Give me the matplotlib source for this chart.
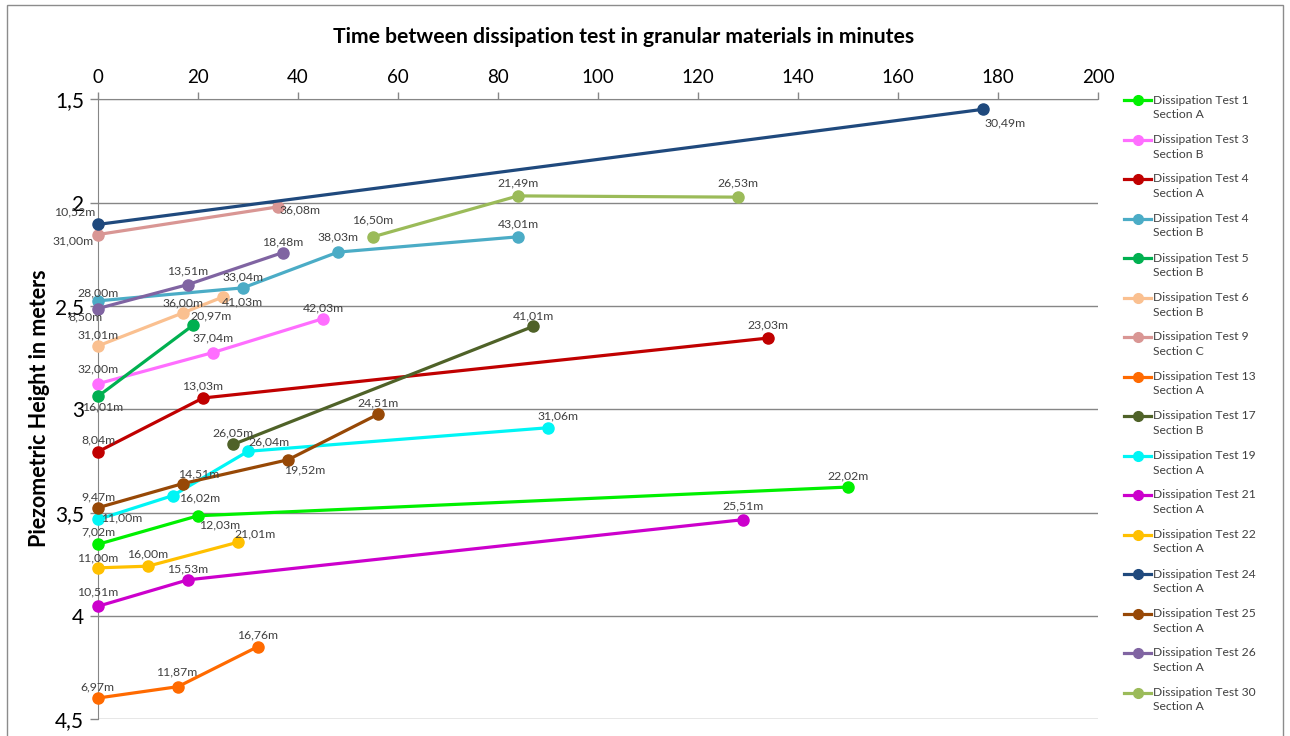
import matplotlib
matplotlib.use('Agg')
import matplotlib.pyplot as plt
from matplotlib.lines import Line2D
from matplotlib.patches import Rectangle
from matplotlib.ticker import FixedLocator, FixedFormatter

plt.rcParams['font.family'] = ['Lato', 'DejaVu Sans']

# tick labels
x_ticks = [0, 20, 40, 60, 80, 100, 120, 140, 160, 180, 200]
y_ticks = [1.5, 2.0, 2.5, 3.0, 3.5, 4.0, 4.5]
y_tick_labels = ['1,5', '2', '2,5', '3', '3,5', '4', '4,5']

# series names (legend)
names = ['Dissipation Test 1\nSection A', 'Dissipation Test 3\nSection B',
         'Dissipation Test 4\nSection A', 'Dissipation Test 4\nSection B',
         'Dissipation Test 5\nSection B', 'Dissipation Test 6\nSection B',
         'Dissipation Test 9\nSection C', 'Dissipation Test 13\nSection A',
         'Dissipation Test 17\nSection B', 'Dissipation Test 19\nSection A',
         'Dissipation Test 21\nSection A', 'Dissipation Test 22\nSection A',
         'Dissipation Test 24\nSection A', 'Dissipation Test 25\nSection A',
         'Dissipation Test 26\nSection A', 'Dissipation Test 30\nSection A']

# time (min), piezometric height (m), depth label
t_1a = [0, 20, 150]
h_1a = [3.653, 3.515, 3.376]
d_1a = ['7,02m', '12,03m', '22,02m']

t_3b = [0, 23, 45]
h_3b = [2.876, 2.725, 2.561]
d_3b = ['32,00m', '37,04m', '42,03m']

t_4a = [0, 21, 134]
h_4a = [3.205, 2.945, 2.655]
d_4a = ['8,04m', '13,03m', '23,03m']

t_4b = [0, 29, 48, 84]
h_4b = [2.475, 2.412, 2.239, 2.165]
d_4b = ['28,00m', '33,04m', '38,03m', '43,01m']

t_5b = [0, 19]
h_5b = [2.937, 2.593]
d_5b = ['16,01m', '20,97m']

t_6b = [0, 17, 25]
h_6b = [2.693, 2.533, 2.456]
d_6b = ['31,01m', '36,00m', '41,03m']

t_9c = [0, 36]
h_9c = [2.154, 2.020]
d_9c = ['31,00m', '36,08m']

t_13a = [0, 16, 32]
h_13a = [4.397, 4.342, 4.148]
d_13a = ['6,97m', '11,87m', '16,76m']

t_17b = [27, 87]
h_17b = [3.170, 2.599]
d_17b = ['26,05m', '41,01m']

t_19a = [0, 15, 30, 90]
h_19a = [3.533, 3.417, 3.203, 3.089]
d_19a = ['11,00m', '16,02m', '26,04m', '31,06m']

t_21a = [0, 18, 129]
h_21a = [3.953, 3.825, 3.534]
d_21a = ['10,51m', '15,53m', '25,51m']

t_22a = [0, 10, 28]
h_22a = [3.767, 3.759, 3.643]
d_22a = ['11,00m', '16,00m', '21,01m']

t_24a = [0, 177]
h_24a = [2.105, 1.548]
d_24a = ['10,52m', '30,49m']

t_25a = [0, 17, 38, 56]
h_25a = [3.476, 3.359, 3.244, 3.024]
d_25a = ['9,47m', '14,51m', '19,52m', '24,51m']

t_26a = [0, 18, 37]
h_26a = [2.512, 2.396, 2.241]
d_26a = ['8,50m', '13,51m', '18,48m']

t_30a = [55, 84, 128]
h_30a = [2.165, 1.967, 1.973]
d_30a = ['16,50m', '21,49m', '26,53m']

times = [t_1a, t_3b, t_4a, t_4b, t_5b, t_6b, t_9c, t_13a, t_17b, t_19a,
         t_21a, t_22a, t_24a, t_25a, t_26a, t_30a]
heights = [h_1a, h_3b, h_4a, h_4b, h_5b, h_6b, h_9c, h_13a, h_17b, h_19a,
           h_21a, h_22a, h_24a, h_25a, h_26a, h_30a]
depths = [d_1a, d_3b, d_4a, d_4b, d_5b, d_6b, d_9c, d_13a, d_17b, d_19a,
          d_21a, d_22a, d_24a, d_25a, d_26a, d_30a]

colors = ['#00F000', '#FF6EFF', '#C00000', '#4BACC6', '#00B050', '#FAC090',
          '#D99694', '#FF6A00', '#4F6228', '#00F5F5', '#CC00CC', '#FFC000',
          '#1F497D', '#974806', '#8064A2', '#9BBB59']

# where each data label sits (pixels from the point)
label_offsets = [
    [(0, 12), (22, -9), (0, 11)],
    [(0, 15), (0, 15), (0, 11)],
    [(0, 12), (0, 12), (0, 13)],
    [(0, 8), (0, 11), (0, 15), (0, 13)],
    [(5, -11), (18, 9)],
    [(0, 11), (0, 10), (19, -5)],
    [(-25, -6), (22, -3)],
    [(-1, 11), (-1, 15), (0, 12)],
    [(0, 12), (0, 11)],
    [(24, 2), (27, -2), (21, 9), (10, 12)],
    [(0, 14), (0, 11), (0, 14)],
    [(0, 10), (0, 12), (17, 8)],
    [(-23, 12), (22, -14)],
    [(0, 11), (16, 10), (17, -10), (0, 11)],
    [(-13, -8), (0, 14), (0, 11)],
    [(0, 17), (0, 13), (0, 14)],
]

W, H = 1290, 736
fig = plt.figure(figsize=(W / 100, H / 100), dpi=100)
ax = fig.add_axes([98 / W, 1 - 719.3 / H, 1000 / W, 619.9 / H])

grey = '#868686'
for i in range(len(names)):
    ax.plot(times[i], heights[i], color=colors[i], lw=2.3, marker='o', ms=8,
            clip_on=False, zorder=3 + i)
    for x, y, s, off in zip(times[i], heights[i], depths[i], label_offsets[i]):
        ax.annotate(s, (x, y), xytext=off, textcoords='offset pixels',
                    ha='center', va='center', fontsize=8.8, color='#404040',
                    zorder=30, annotation_clip=False)

ax.set_xlim(0, 200)
ax.set_ylim(4.5, 1.5)
ax.xaxis.tick_top()
ax.xaxis.set_major_locator(FixedLocator(x_ticks))
ax.yaxis.set_major_locator(FixedLocator(y_ticks))
ax.yaxis.set_major_formatter(FixedFormatter(y_tick_labels))
ax.tick_params(axis='x', labelsize=13.5, length=5, width=1, color=grey, pad=5)
ax.tick_params(axis='y', labelsize=15, length=6, width=1, color=grey, pad=4)
for s in ['right', 'bottom']:
    ax.spines[s].set_visible(False)
for s in ['top', 'left']:
    ax.spines[s].set_color(grey)
ax.grid(axis='y', color=grey, lw=1)
ax.set_axisbelow(True)

fig.text(624 / W, 1 - 37 / H,
         'Time between dissipation test in granular materials in minutes',
         ha='center', va='center', fontsize=15.2, fontweight='bold')
fig.text(40 / W, 1 - 408 / H, 'Piezometric Height in meters', rotation=90,
         ha='center', va='center', fontsize=15.5, fontweight='bold')

# legend, first text line next to the handle
for i, name in enumerate(names):
    yp = 100 + i * 39.5
    line1, line2 = name.split('\n')
    fig.add_artist(Line2D([1124 / W, 1151 / W], [1 - yp / H, 1 - yp / H],
                          color=colors[i], lw=2.3, transform=fig.transFigure))
    fig.add_artist(Line2D([1137.5 / W], [1 - yp / H], color=colors[i],
                          marker='o', ms=7, transform=fig.transFigure))
    fig.text(1153 / W, 1 - yp / H, line1, va='center', ha='left',
             fontsize=8.7, color='#404040')
    fig.text(1153 / W, 1 - (yp + 14.5) / H, line2, va='center', ha='left',
             fontsize=8.7, color='#404040')

fig.add_artist(Rectangle((7 / W, -0.05), 1276 / W, 1.05 - 5 / H,
                         transform=fig.transFigure, fill=False,
                         edgecolor='#8c8c8c', lw=1))

fig.savefig('out.png', dpi=100)
